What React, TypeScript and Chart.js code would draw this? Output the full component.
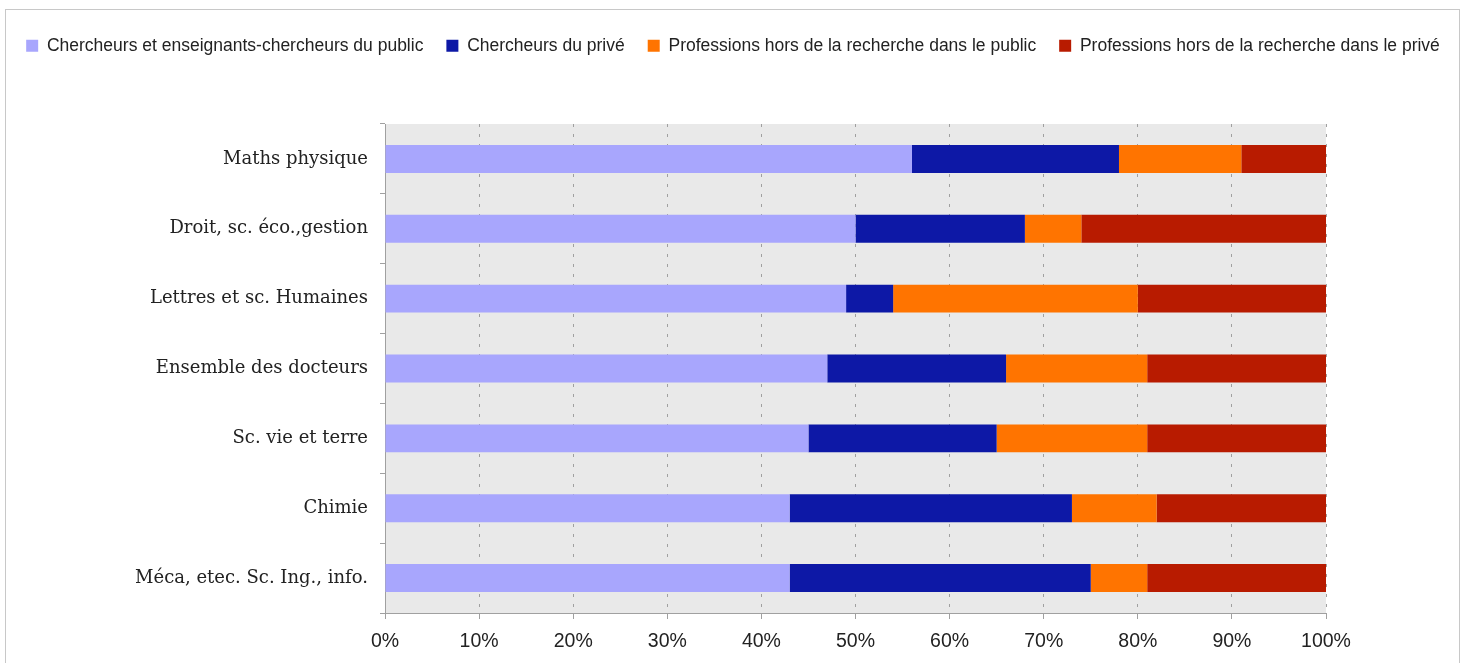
import React, { useEffect, useRef } from "react";
import { Chart, registerables } from "chart.js";

Chart.register(...registerables);

const categories = [
  "Maths physique",
  "Droit, sc. éco.,gestion",
  "Lettres et sc. Humaines",
  "Ensemble des docteurs",
  "Sc. vie et terre",
  "Chimie",
  "Méca, etec. Sc. Ing., info.",
];

const seriesNames = [
  "Chercheurs et enseignants-chercheurs du public",
  "Chercheurs du privé",
  "Professions hors de la recherche dans le public",
  "Professions hors de la recherche dans le privé",
];

const chercheursPublic = [56, 50, 49, 47, 45, 43, 43];
const chercheursPrive = [22, 18, 5, 19, 20, 30, 32];
const horsRecherchePublic = [13, 6, 26, 15, 16, 9, 6];
const horsRecherchePrive = [9, 26, 20, 19, 19, 18, 19];

const tickValues = [0, 10, 20, 30, 40, 50, 60, 70, 80, 90, 100];

const colors = ["#A8A6FD", "#0D18A6", "#FF7400", "#B81B00"];

export default function App() {
  const ref = useRef<HTMLCanvasElement | null>(null);

  useEffect(() => {
    document.body.style.overflow = "hidden";
    const canvas = ref.current;
    if (!canvas) return;

    const plotBg = {
      id: "plotBg",
      beforeDraw(chart: any) {
        const { ctx, chartArea } = chart;
        ctx.save();
        ctx.fillStyle = "#E9E9E9";
        ctx.fillRect(chartArea.left, chartArea.top, chartArea.right - chartArea.left, chartArea.bottom - chartArea.top);
        ctx.restore();
      },
    };

    const legendSpace = {
      id: "legendSpace",
      beforeInit(chart: any) {
        const orig = chart.legend.fit;
        chart.legend.fit = function () {
          orig.bind(chart.legend)();
          this.height = 110;
        };
      },
    };

    const data = [chercheursPublic, chercheursPrive, horsRecherchePublic, horsRecherchePrive];

    const chart = new Chart(canvas, {
      type: "bar",
      data: {
        labels: categories,
        datasets: data.map((d, i) => ({
          label: seriesNames[i],
          data: d,
          backgroundColor: colors[i],
          borderWidth: 0,
          barPercentage: 0.4,
          categoryPercentage: 1,
        })),
      },
      options: {
        indexAxis: "y",
        animation: false,
        responsive: true,
        maintainAspectRatio: false,
        layout: { padding: { top: 14, left: 0, right: 0, bottom: 0 } },
        plugins: {
          tooltip: { enabled: false },
          legend: {
            position: "top",
            align: "center",
            labels: {
              boxWidth: 12,
              boxHeight: 12,
              padding: 23,
              color: "#222",
              font: { family: "Liberation Sans, Arial, sans-serif", size: 17.5 },
            },
          },
        },
        scales: {
          x: {
            stacked: true,
            min: 0,
            max: 100,
            afterFit(s: any) {
              s.height = 50;
            },
            afterBuildTicks(s: any) {
              s.ticks = tickValues.map((v) => ({ value: v }));
            },
            ticks: {
              callback: (v: any) => v + "%",
              color: "#222",
              padding: 11,
              font: { family: "Liberation Sans, Arial, sans-serif", size: 19.5 },
            },
            grid: {
              color: (c: any) => (c.tick && c.tick.value === 0 ? "rgba(0,0,0,0)" : "#A0A0A0"),
              lineWidth: 1,
              drawTicks: true,
              tickLength: 6,
              tickColor: "#A0A0A0",
            },
            border: { display: true, color: "#A0A0A0", dash: [3, 7] },
          },
          y: {
            stacked: true,
            afterFit(s: any) {
              s.width = 385;
            },
            ticks: {
              color: "#222",
              padding: 12,
              font: { family: "DejaVu Serif, Georgia, serif", size: 18 },
            },
            grid: {
              drawOnChartArea: false,
              drawTicks: true,
              tickLength: 5,
              color: "#A0A0A0",
              offset: true,
            },
            border: { display: true, color: "#A0A0A0" },
          },
          rightSpace: {
            type: "category",
            axis: "y",
            position: "right",
            display: true,
            afterFit(s: any) {
              s.width = 140;
            },
            ticks: { display: false },
            grid: { display: false },
            border: { display: false },
          } as any,
        },
      },
      plugins: [plotBg, legendSpace],
    });

    return () => chart.destroy();
  }, []);

  return (
    <>
      <div
        style={{
          position: "absolute",
          left: 5,
          top: 9,
          width: 1455,
          height: 660,
          borderTop: "1px solid #C8C8C8",
          borderLeft: "1px solid #C8C8C8",
          borderRight: "1px solid #C8C8C8",
          boxSizing: "border-box",
        }}
      />
      <div style={{ position: "absolute", left: 0, top: 0, width: 1466, height: 663 }}>
        <canvas ref={ref} />
      </div>
    </>
  );
}
